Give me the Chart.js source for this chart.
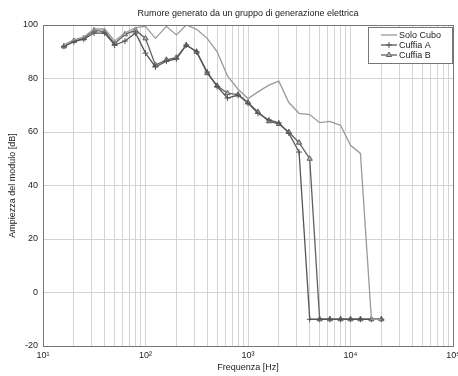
<!DOCTYPE html>
<html>
<head>
<meta charset="utf-8">
<script src="https://cdn.jsdelivr.net/npm/chart.js@4"></script>
<style>
html,body{margin:0;padding:0;background:#fff;}
#wrap{width:458px;height:376px;position:relative;}
</style>
</head>
<body>
<div id="wrap"><canvas id="c" width="458" height="376"></canvas></div>
<script>
const titleText = 'Rumore generato da un gruppo di generazione elettrica';
const xTitle = 'Frequenza [Hz]';
const yTitle = 'Ampiezza del modulo [dB]';
const seriesNames = ['Solo Cubo', 'Cuffia A', 'Cuffia B'];
const frequencies = [16, 20, 25, 31.5, 40, 50, 63, 80, 100, 125, 160, 200, 250, 315, 400, 500, 630, 800,
  1000, 1250, 1600, 2000, 2500, 3150, 4000, 5000, 6300, 8000, 10000, 12500, 16000, 20000];
const soloCubo = [92.5, 94.5, 95.5, 98.5, 98.5, 94, 97, 99, 99.5, 95, 99.5, 96.3, 100, 98.4, 95, 90, 81, 76,
  72.5, 75, 77.5, 79, 71, 67, 66.5, 63.5, 64, 62.5, 55, 52, -10, -10];
const cuffiaA = [92, 93.8, 94.7, 97, 97, 92.5, 94, 97, 89.5, 84.3, 86.5, 87.3, 92.5, 90, 82.4, 77, 72.7, 73.8,
  70.8, 67, 64.5, 63.4, 59.6, 52.5, -10, -10, -10, -10, -10, -10, -10, -10];
const cuffiaB = [92, 94, 95, 98, 97.5, 93, 96.5, 98, 95, 85, 87, 87.8, 92.5, 90, 82, 77.3, 74.5, 74,
  71, 67.5, 64, 63, 60, 56, 50, -10, -10, -10, -10, -10, -10, -10];
const xTickValues = [];
for (let e = 1; e <= 4; e++) for (let m = 1; m <= 9; m++) xTickValues.push(m * Math.pow(10, e));
xTickValues.push(100000);
const xMajorTicks = [10, 100, 1000, 10000, 100000];
const xTickLabels = ['10¹', '10²', '10³', '10⁴', '10⁵'];
const yTickValues = [-20, 0, 20, 40, 60, 80, 100];

const FONT = 'Liberation Sans, Arial, sans-serif';
const toPts = arr => arr.map((v, i) => ({x: frequencies[i], y: v}));

const styles = [
  {borderColor: '#9a9a9a', pointStyle: false, pointRadius: 0, backgroundColor: '#9a9a9a'},
  {borderColor: '#555', pointStyle: 'cross', pointRadius: 3, backgroundColor: '#555'},
  {borderColor: '#606060', pointStyle: 'triangle', pointRadius: 3, backgroundColor: '#b0b0b0'}
];
const values = [soloCubo, cuffiaA, cuffiaB];

const frameAndLegend = {
  id: 'frameAndLegend',
  afterDraw(chart) {
    const {ctx, chartArea: a} = chart;
    ctx.save();
    ctx.strokeStyle = '#777';
    ctx.lineWidth = 1;
    ctx.strokeRect(Math.round(a.left) + 0.5, Math.round(a.top) + 0.5, Math.round(a.right - a.left), Math.round(a.bottom - a.top));
    ctx.fillStyle = '#222';
    ctx.font = '9px ' + FONT;
    ctx.textAlign = 'center';
    ctx.textBaseline = 'middle';
    ctx.fillText(titleText, (a.left + a.right) / 2, 14);
    const bx = 368, by = 27, bw = 84, bh = 36;
    ctx.fillStyle = '#fff';
    ctx.fillRect(bx, by, bw, bh);
    ctx.strokeStyle = '#777';
    ctx.strokeRect(bx + 0.5, by + 0.5, bw, bh);
    ctx.textAlign = 'left';
    chart.data.datasets.forEach((ds, i) => {
      const y = by + 8 + i * 10;
      ctx.strokeStyle = ds.borderColor;
      ctx.lineWidth = 1.3;
      ctx.beginPath();
      ctx.moveTo(381, y); ctx.lineTo(397, y); ctx.stroke();
      if (ds.pointStyle) {
        ctx.fillStyle = ds.backgroundColor;
        ctx.strokeStyle = ds.borderColor;
        ctx.lineWidth = 1;
        Chart.helpers.drawPoint(ctx, {pointStyle: ds.pointStyle, radius: 3, borderWidth: 1}, 389, y);
      }
      ctx.fillStyle = '#222';
      ctx.fillText(ds.label, 399, y + 0.5);
    });
    ctx.restore();
  }
};

new Chart(document.getElementById('c'), {
  type: 'line',
  data: {
    datasets: seriesNames.map((name, i) => ({
      label: name,
      data: toPts(values[i]),
      borderColor: styles[i].borderColor,
      backgroundColor: styles[i].backgroundColor,
      pointStyle: styles[i].pointStyle,
      pointRadius: styles[i].pointRadius,
      pointBorderColor: styles[i].borderColor,
      pointBackgroundColor: styles[i].backgroundColor,
      pointBorderWidth: 1,
      borderWidth: 1.3,
      tension: 0,
      fill: false
    }))
  },
  options: {
    responsive: false,
    animation: false,
    layout: {padding: {top: 25, right: 5, left: 0, bottom: 0}},
    plugins: {legend: {display: false}, title: {display: false}, tooltip: {enabled: false}},
    scales: {
      x: {
        type: 'logarithmic',
        min: 10, max: 100000,
        afterBuildTicks: s => { s.ticks = xTickValues.map(v => ({value: v})); },
        afterFit: s => { s.height = 30; s.paddingRight = 0; s.paddingLeft = 0; },
        grid: {color: '#d4d4d4', lineWidth: 1, drawTicks: false},
        border: {display: false},
        ticks: {
          autoSkip: false, maxRotation: 0, padding: 4, color: '#222',
          font: {family: FONT, size: 9},
          callback: v => { const k = xMajorTicks.indexOf(v); return k >= 0 ? xTickLabels[k] : ''; }
        },
        title: {display: true, text: xTitle, color: '#222', font: {family: FONT, size: 9}, padding: {top: 0, bottom: 3}}
      },
      y: {
        min: -20, max: 100,
        afterBuildTicks: s => { s.ticks = yTickValues.map(v => ({value: v})); },
        afterFit: s => { s.width = 43; s.paddingTop = 0; s.paddingBottom = 0; },
        grid: {color: '#d4d4d4', lineWidth: 1, drawTicks: false},
        border: {display: false},
        ticks: {padding: 5, color: '#222', font: {family: FONT, size: 9}},
        title: {display: true, text: yTitle, color: '#222', font: {family: FONT, size: 9}, padding: {top: 7, bottom: 0}}
      }
    }
  },
  plugins: [frameAndLegend]
});
</script>
</body>
</html>
